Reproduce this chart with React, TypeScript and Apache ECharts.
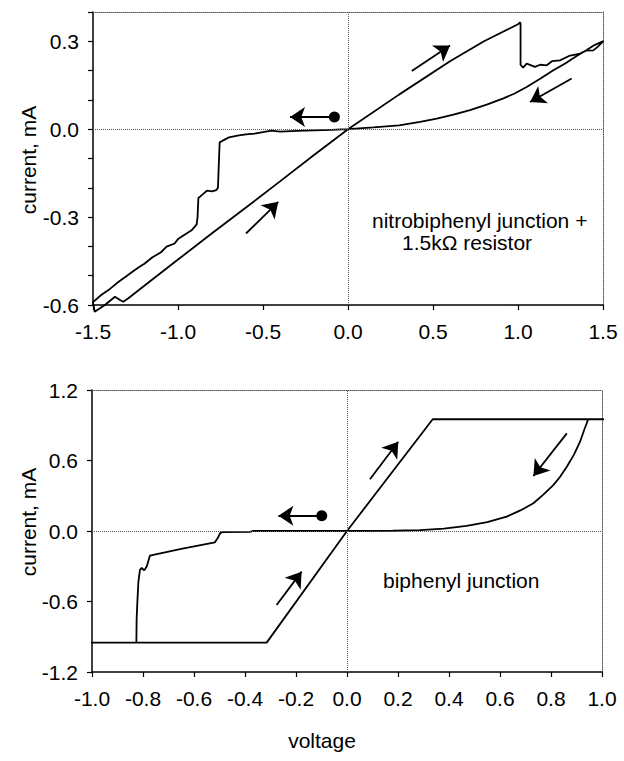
import React, { useEffect, useRef } from "react";
import * as echarts from "echarts";

// ---------- Top panel: nitrobiphenyl junction + 1.5 kOhm resistor ----------
const topX: number[] = [
  0, -0.1, -0.2, -0.3, -0.4, -0.45, -0.5, -0.55, -0.6, -0.65, -0.7, -0.74, -0.755, -0.76, -0.765,
  -0.775, -0.8, -0.83, -0.85, -0.87, -0.88, -0.885, -0.89, -0.92, -0.95, -1.0, -1.02, -1.067, -1.1,
  -1.15, -1.2, -1.224, -1.26, -1.3, -1.361, -1.4, -1.45, -1.5,
  -1.49, -1.43, -1.371, -1.341, -1.322, -1.292, -1.2, -1.0, -0.8, -0.6, -0.4, -0.2, 0,
  0.3, 0.6, 0.8, 1.0, 1.012, 1.015, 1.015, 1.03, 1.051, 1.1, 1.13, 1.169, 1.2, 1.247, 1.3, 1.365,
  1.4, 1.443, 1.47, 1.502,
  1.45, 1.404, 1.345, 1.28, 1.208, 1.13, 1.051, 0.98, 0.914, 0.82, 0.718, 0.62, 0.522, 0.424, 0.3,
  0.15, 0,
];
const topY: number[] = [
  0, -0.002, -0.004, -0.006, -0.008, -0.005, -0.01, -0.015, -0.018, -0.022, -0.028, -0.04, -0.045,
  -0.12, -0.2, -0.208, -0.212, -0.21, -0.22, -0.23, -0.235, -0.3, -0.325, -0.345, -0.356, -0.375,
  -0.39, -0.401, -0.42, -0.437, -0.46, -0.469, -0.483, -0.5, -0.526, -0.545, -0.565, -0.59,
  -0.623, -0.6, -0.572, -0.583, -0.589, -0.577, -0.535, -0.445, -0.355, -0.267, -0.178, -0.088, 0,
  0.118, 0.232, 0.3, 0.358, 0.364, 0.362, 0.22, 0.21, 0.224, 0.213, 0.22, 0.218, 0.232, 0.235,
  0.25, 0.258, 0.268, 0.269, 0.282, 0.301,
  0.287, 0.27, 0.25, 0.225, 0.201, 0.172, 0.144, 0.122, 0.105, 0.085, 0.065, 0.05, 0.036, 0.025,
  0.013, 0.006, 0,
];
const topArrows: number[][][] = [
  [[-0.6, -0.356], [-0.41, -0.248]],
  [[0.375, 0.199], [0.6, 0.286]],
  [[1.316, 0.173], [1.071, 0.093]],
  [[-0.08, 0.042], [-0.341, 0.042]],
];
const topDot: number[] = [-0.08, 0.042];
const topXTicks = { min: -1.5, max: 1.5, step: 0.5 };
const topYTicks = { min: -0.6, max: 0.4, step: 0.1 };

// ---------- Bottom panel: biphenyl junction ----------
const botX: number[] = [
  0.064, -0.2, -0.37, -0.38, -0.49, -0.498, -0.505, -0.518, -0.65, -0.773, -0.785, -0.795, -0.805,
  -0.812, -0.818, -0.822, -0.825, -0.826, -1.02,
  -0.315, 0, 0.336, 1.03,
  0.946, 0.93, 0.914, 0.89, 0.862, 0.835, 0.809, 0.77, 0.731, 0.68, 0.626, 0.55, 0.469, 0.38, 0.286,
  0.18, 0.064,
];
const botY: number[] = [
  0, 0, 0, -0.008, -0.01, -0.02, -0.053, -0.096, -0.152, -0.21, -0.3, -0.335, -0.315, -0.33, -0.43,
  -0.6, -0.75, -0.95, -0.95,
  -0.95, 0, 0.951, 0.951,
  0.951, 0.86, 0.76, 0.65, 0.547, 0.46, 0.391, 0.31, 0.236, 0.175, 0.122, 0.075, 0.043, 0.02, 0.008,
  0.002, 0,
];
const botArrows: number[][][] = [
  [[-0.276, -0.63], [-0.178, -0.346]],
  [[0.09, 0.44], [0.201, 0.76]],
  [[0.862, 0.831], [0.731, 0.468]],
  [[-0.099, 0.13], [-0.269, 0.13]],
];
const botDot: number[] = [-0.099, 0.13];
const botXTicks = { min: -1.0, max: 1.0, step: 0.2 };
const botYTicks = { min: -1.2, max: 1.2, step: 0.6 };

const topLabel1 = "nitrobiphenyl junction +";
const topLabel2 = "1.5k\u03A9 resistor";
const botLabel = "biphenyl junction";
const yName = "current, mA";
const xName = "voltage";

const FONT = '"Liberation Sans", Arial, sans-serif';
const FS = 21;

function zip(xs: number[], ys: number[]) {
  return xs.map((x, i) => [x, ys[i]]);
}

function fmt(v: number) {
  const r = Math.round(v * 10) / 10;
  return (r === 0 ? 0 : r).toFixed(1);
}

export default function App() {
  const ref = useRef<HTMLDivElement>(null);
  useEffect(() => {
    if (!ref.current) return;
    const chart = echarts.init(ref.current, undefined, { renderer: "svg" });

    const solidAxis = { onZero: false, lineStyle: { color: "#000", width: 1.5 } };
    const dottedAxis = { onZero: false, lineStyle: { color: "#555", width: 1, type: "dotted" as const } };
    const tick = { length: 5, lineStyle: { color: "#000", width: 1.2 } };
    const lbl = (margin: number, formatter: any) => ({
      color: "#000",
      fontSize: FS,
      fontFamily: FONT,
      margin,
      formatter,
    });

    const mkBox = (
      grid: number,
      xt: { min: number; max: number; step: number },
      yt: { min: number; max: number; step: number },
      yFmt: any
    ) => {
      const xs = [
        {
          type: "value", gridIndex: grid, min: xt.min, max: xt.max, interval: xt.step,
          axisLine: solidAxis, axisTick: tick, splitLine: { show: false },
          axisLabel: lbl(16, (v: number) => fmt(v)),
        },
        {
          type: "value", gridIndex: grid, position: "top", min: xt.min, max: xt.max, interval: xt.step,
          axisLine: dottedAxis, axisTick: { show: false }, axisLabel: { show: false }, splitLine: { show: false },
        },
      ];
      const ys = [
        {
          type: "value", gridIndex: grid, min: yt.min, max: yt.max, interval: yt.step,
          axisLine: solidAxis, axisTick: tick, splitLine: { show: false },
          axisLabel: lbl(14, yFmt),
        },
        {
          type: "value", gridIndex: grid, position: "right", min: yt.min, max: yt.max, interval: yt.step,
          axisLine: dottedAxis, axisTick: { show: false }, axisLabel: { show: false }, splitLine: { show: false },
        },
      ];
      return { xs, ys };
    };

    const top = mkBox(0, topXTicks, topYTicks, (v: number) => {
      const k = Math.round(v * 10);
      return Math.abs(k) % 3 === 0 ? fmt(v) : "";
    });
    const bot = mkBox(1, botXTicks, botYTicks, (v: number) => fmt(v));

    const zeroLines = {
      silent: true,
      symbol: ["none", "none"],
      label: { show: false },
      lineStyle: { type: "dotted", color: "#555", width: 1 },
      data: [{ xAxis: 0 }, { yAxis: 0 }],
    };

    const curve = (xi: number, yi: number, data: number[][]) => ({
      type: "line",
      xAxisIndex: xi,
      yAxisIndex: yi,
      data,
      showSymbol: false,
      symbol: "none",
      clip: false,
      lineStyle: { color: "#000", width: 1.8 },
      markLine: zeroLines,
      z: 3,
    });

    const arrows = (xi: number, yi: number, segs: number[][][]) => ({
      type: "lines",
      coordinateSystem: "cartesian2d",
      xAxisIndex: xi,
      yAxisIndex: yi,
      symbol: ["none", "arrow"],
      symbolSize: [12, 15],
      lineStyle: { color: "#000", width: 1.8, opacity: 1, curveness: 0 },
      itemStyle: { color: "#000" },
      data: segs.map((s) => ({ coords: s })),
      silent: true,
      z: 4,
    });

    const dot = (xi: number, yi: number, p: number[]) => ({
      type: "scatter",
      xAxisIndex: xi,
      yAxisIndex: yi,
      data: [p],
      symbol: "circle",
      symbolSize: 11,
      itemStyle: { color: "#000", opacity: 1 },
      silent: true,
      z: 5,
    });

    const textStyle = (text: string, align: string) => ({
      text,
      fill: "#000",
      font: `${FS}px ${FONT}`,
      textAlign: align,
      textVerticalAlign: "middle",
    });

    chart.setOption({
      animation: false,
      backgroundColor: "#fff",
      grid: [
        { left: 93, top: 12, right: 21, height: 293, containLabel: false },
        { left: 92, top: 390, right: 22, height: 282, containLabel: false },
      ],
      xAxis: [...top.xs, ...bot.xs],
      yAxis: [...top.ys, ...bot.ys],
      series: [
        curve(0, 0, zip(topX, topY)),
        arrows(0, 0, topArrows),
        dot(0, 0, topDot),
        curve(2, 2, zip(botX, botY)),
        arrows(2, 2, botArrows),
        dot(2, 2, botDot),
      ],
      graphic: [
        { type: "text", x: 28, y: 160, rotation: Math.PI / 2, style: textStyle(yName, "center") },
        { type: "text", x: 28, y: 522, rotation: Math.PI / 2, style: textStyle(yName, "center") },
        { type: "text", x: 322, y: 740, style: textStyle(xName, "center") },
        {
          type: "text",
          x: 372,
          y: 231,
          style: {
            text: `{a|${topLabel1}}\n{b|${topLabel2}}`,
            fill: "#000",
            font: `${FS}px ${FONT}`,
            textAlign: "left",
            textVerticalAlign: "middle",
            rich: {
              a: { fontSize: FS, fontFamily: FONT, lineHeight: 22, fill: "#000" },
              b: { fontSize: FS, fontFamily: FONT, lineHeight: 22, fill: "#000", padding: [0, 0, 0, 30] },
            },
          },
        },
        { type: "text", x: 383, y: 580, style: textStyle(botLabel, "left") },
      ],
    });

    return () => chart.dispose();
  }, []);

  return (
    <div
      ref={ref}
      style={{ position: "absolute", left: 0, top: 0, width: 624, height: 761, background: "#fff" }}
    />
  );
}
